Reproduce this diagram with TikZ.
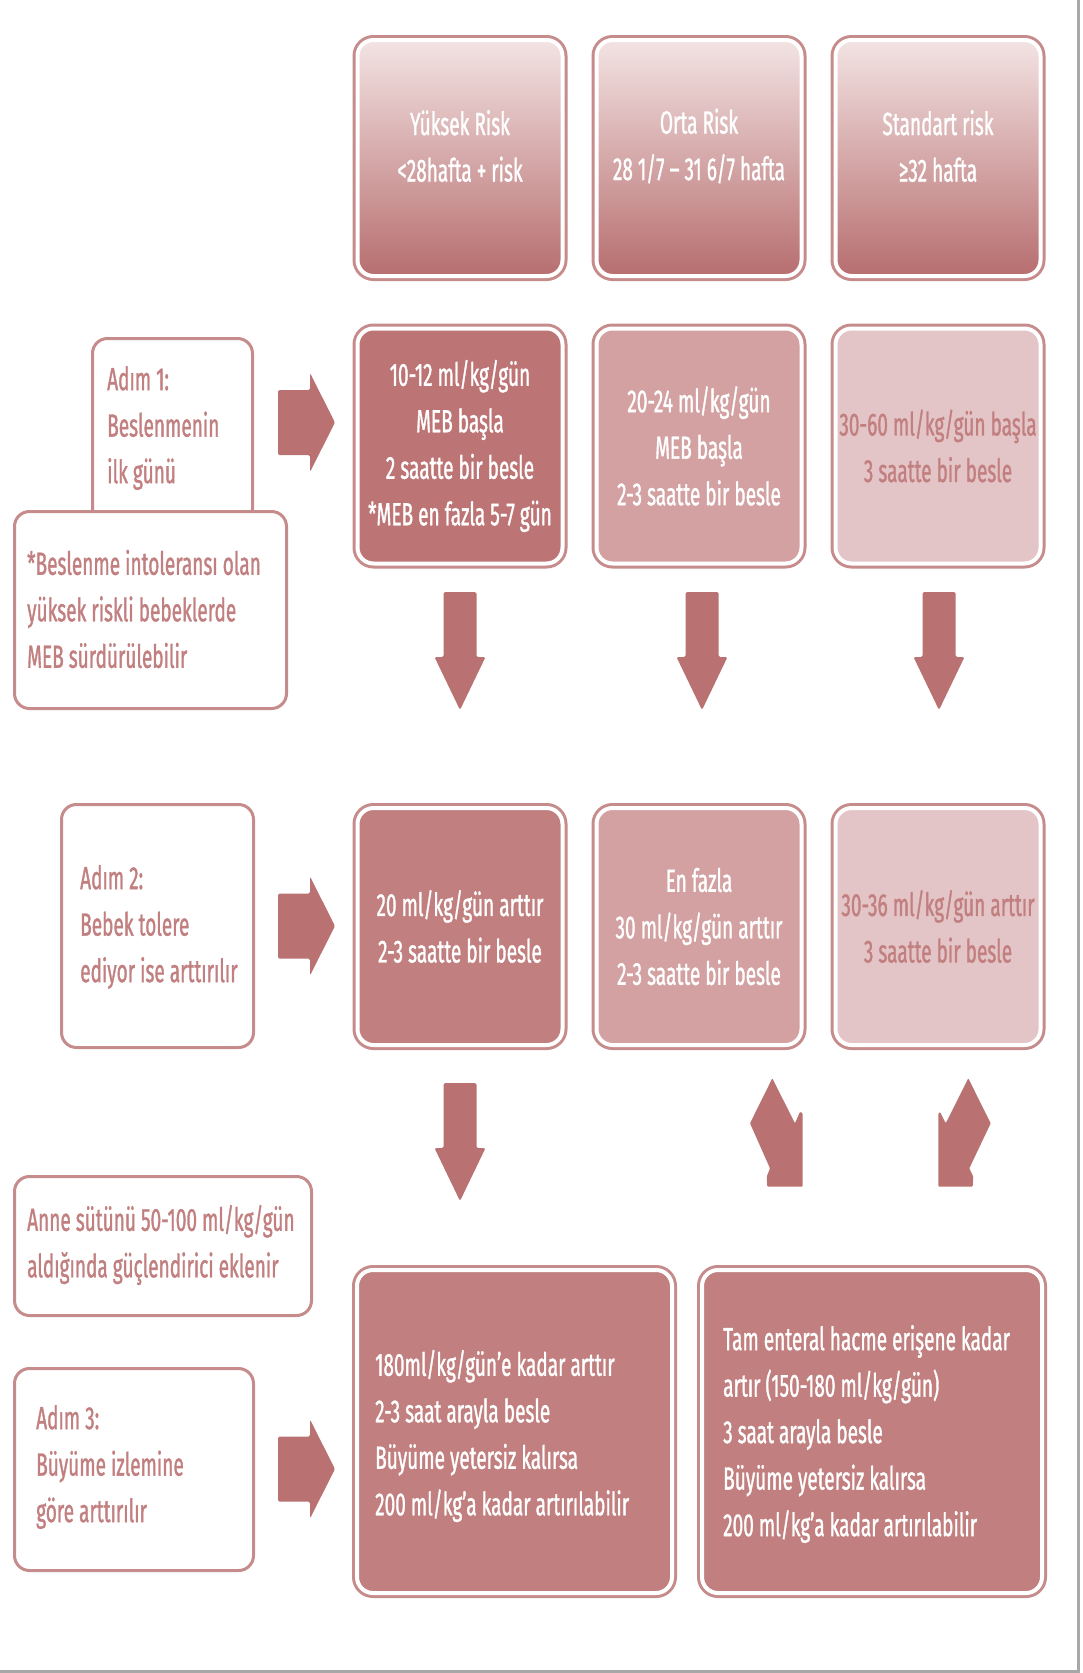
\documentclass[tikz,border=0pt]{standalone}
\usepackage{fontspec}
\setmainfont{Fira Sans}[FakeStretch=0.595, FakeBold=1.0]
\definecolor{roseline}{HTML}{C68B8B}
\definecolor{arrowc}{HTML}{B97171}
\definecolor{cdark}{HTML}{BC7475}
\definecolor{cmid}{HTML}{C17F7F}
\definecolor{cmed}{HTML}{D3A1A2}
\definecolor{clight}{HTML}{E4C5C7}
\definecolor{txtrose}{HTML}{C27F80}
\definecolor{htop}{HTML}{F3E3E3}
\definecolor{hbot}{HTML}{B76E6F}
\definecolor{framegray}{HTML}{A8A8A8}
\tikzset{
  txt/.style={font=\fontsize{32}{46.5}\selectfont, inner sep=0pt},
  cbox/.style={rounded corners=16, draw=white, line width=4,
    preaction={draw=roseline, line width=10}, inner sep=0pt,
    txt, align=center, minimum width=205, minimum height=236},
  hbox/.style={cbox, top color=htop, bottom color=hbot},
  lbox/.style={rounded corners=15, draw=roseline, line width=3, fill=white, inner sep=0pt},
  ltxt/.style={txt, text=txtrose, align=left, anchor=west},
  wtxt/.style={txt, text=white, align=left, anchor=west},
  rarr/.pic={\fill[arrowc, rounded corners=1.5] (0,-32.5) -- (32,-32.5) -- (32,-49.5) -- (57,0) -- (32,49.5) -- (32,32.5) -- (0,32.5) -- cycle;},
  darr/.pic={\fill[arrowc, rounded corners=1.5] (-16.5,0) -- (16.5,0) -- (16.5,65) -- (25.5,65) -- (0,118) -- (-25.5,65) -- (-16.5,65) -- cycle;}
}
\begin{document}
\begin{tikzpicture}[x=1pt,y=-1pt]
\useasboundingbox (0,0) rectangle (1082,1673);
\fill[white] (0,0) rectangle (1082,1673);
\draw[framegray, line width=3] (1078.5,0) -- (1078.5,1671.5) -- (0,1671.5);

% header row
\node[hbox] (h1) at (460,158) {};
\node[hbox] (h2) at (699,158) {};
\node[hbox] (h3) at (938,158) {};
\node[txt, text=white, align=center] (h1t) at (460,146) {Yüksek Risk\\<28hafta + risk};
\node[txt, text=white, align=center] (h2t) at (699,146) {Orta Risk\\28 1/7 – 31 6/7 hafta};
\node[txt, text=white, align=center] (h3t) at (938,146) {Standart risk\\≥32 hafta};

% step 1 row
\node[cbox, fill=cdark, text=white, minimum height=235] (r1a) at (460,446) {10-12 ml/kg/gün\\MEB başla\\2 saatte bir besle\\*MEB en fazla 5-7 gün};
\node[cbox, fill=cmed, text=white, minimum height=235] (r1b) at (699,446) {20-24 ml/kg/gün\\MEB başla\\2-3 saatte bir besle};
\node[cbox, fill=clight, text=txtrose, minimum height=235] (r1c) at (938,446) {30-60 ml/kg/gün başla\\3 saatte bir besle};

\node[lbox, minimum width=160, minimum height=185] (s1) at (172.5,431) {};
\node[ltxt] (s1t) at (107,428) {Adım 1:\\Beslenmenin\\ilk günü};
\node[lbox, minimum width=272, minimum height=197] (n1) at (150.5,610) {};
\node[ltxt] (n1t) at (27,609) {*Beslenme intoleransı olan\\yüksek riskli bebeklerde\\MEB sürdürülebilir};
\pic at (278,422.5) {rarr};

\pic at (460,592) {darr};
\pic at (702,592) {darr};
\pic at (939,592) {darr};

% step 2 row
\node[cbox, fill=cmid, text=white, minimum height=237] (r2a) at (460,926.5) {20 ml/kg/gün arttır\\2-3 saatte bir besle};
\node[cbox, fill=cmed, text=white, minimum height=237] (r2b) at (699,926.5) {En fazla\\30 ml/kg/gün arttır\\2-3 saatte bir besle};
\node[cbox, fill=clight, text=txtrose, minimum height=237] (r2c) at (938,926.5) {30-36 ml/kg/gün arttır\\3 saatte bir besle};

\node[lbox, minimum width=192, minimum height=243] (s2) at (157.5,926) {};
\node[ltxt] (s2t) at (80,927) {Adım 2:\\Bebek tolere\\ediyor ise arttırılır};
\pic at (278,926) {rarr};

\pic at (460,1083) {darr};
\fill[arrowc, rounded corners=1] (772.3,1078.3) -- (795,1123.3) -- (800,1111.7) -- (802.7,1113.3) -- (802.7,1186.7) -- (767.3,1186.7) -- (766.7,1176.7) -- (770,1168.3) -- (750,1123.3) -- cycle;
\fill[arrowc, rounded corners=1] (968.3,1078.3) -- (945.7,1123.3) -- (940,1112) -- (938.3,1113.3) -- (938.3,1186.7) -- (972.7,1186.7) -- (973.3,1176.7) -- (969.3,1168.3) -- (990.7,1123.3) -- cycle;

% step 3 row
\node[lbox, minimum width=297, minimum height=139] (n2) at (163,1246) {};
\node[ltxt] (n2t) at (27,1245) {Anne sütünü 50-100 ml/kg/gün\\aldığında güçlendirici eklenir};
\node[lbox, minimum width=239, minimum height=202] (s3) at (134,1469.5) {};
\node[ltxt] (s3t) at (36,1467) {Adım 3:\\Büyüme izlemine\\göre arttırılır};
\pic at (278,1469) {rarr};

\node[cbox, fill=cmid, minimum width=315, minimum height=323] (b1) at (514.5,1431.5) {};
\node[wtxt] (b1t) at (375,1436) {180ml/kg/gün’e kadar arttır\\2-3 saat arayla besle\\Büyüme yetersiz kalırsa\\200 ml/kg’a kadar artırılabilir};
\node[cbox, fill=cmid, minimum width=340, minimum height=323] (b2) at (872,1431.5) {};
\node[wtxt] (b2t) at (723,1434) {Tam enteral hacme erişene kadar\\artır (150-180 ml/kg/gün)\\3 saat arayla besle\\Büyüme yetersiz kalırsa\\200 ml/kg’a kadar artırılabilir};
\end{tikzpicture}
\end{document}
